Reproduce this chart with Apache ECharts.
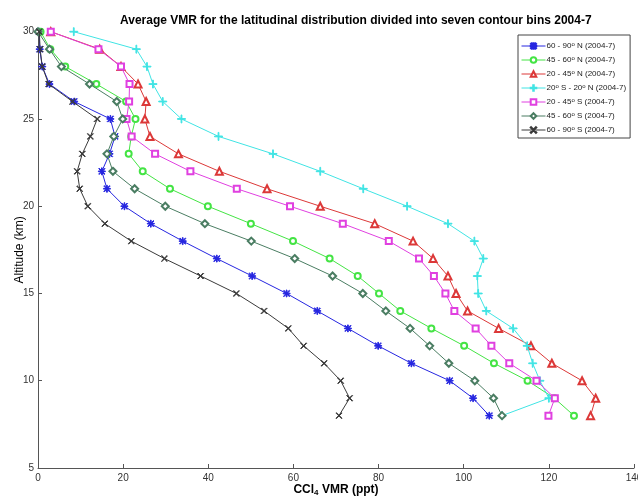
<!DOCTYPE html>
<html>
<head>
<meta charset="utf-8">
<script src="https://cdn.jsdelivr.net/npm/echarts@6/dist/echarts.min.js"></script>
<style>
  html, body { margin: 0; padding: 0; background: #fff; }
  #chart { width: 638px; height: 496px; }
</style>
</head>
<body>
<div id="chart"></div>
<script>
// Altitude levels (km), top to bottom
const altitudes = [30, 29, 28, 27, 26, 25, 24, 23, 22, 21, 20, 19, 18, 17, 16, 15, 14, 13, 12, 11, 10, 9, 8];

// CCl4 VMR (ppt) for each latitude band, one value per altitude level
const nh60to90 = [0.3, 0.4, 1.0, 2.7, 8.5, 17.0, 18.1, 16.8, 15.0, 16.2, 20.3, 26.5, 34.0, 42.0, 50.3, 58.4, 65.6, 72.8, 79.9, 87.7, 96.7, 102.2, 106.0];
const nh45to60 = [0.6, 2.9, 6.4, 13.7, 20.7, 22.9, 21.9, 21.3, 24.6, 31.0, 39.9, 50.0, 59.9, 68.5, 75.1, 80.1, 85.1, 92.4, 100.1, 107.1, 115.0, 121.3, 125.9];
const nh20to45 = [3.0, 14.5, 19.5, 23.5, 25.4, 25.1, 26.3, 33.0, 42.6, 53.8, 66.3, 79.1, 88.1, 92.8, 96.3, 98.2, 100.9, 108.2, 115.8, 120.7, 127.8, 131.0, 129.8];
const tropics = [8.4, 23.1, 25.6, 27.0, 29.3, 33.7, 42.4, 55.2, 66.3, 76.4, 86.7, 96.3, 102.5, 104.6, 103.2, 103.4, 105.3, 111.6, 114.9, 116.2, 117.9, 120.0, 109.0];
const sh20to45 = [3.0, 14.2, 19.5, 21.5, 21.4, 20.8, 22.0, 27.5, 35.8, 46.7, 59.2, 71.6, 82.4, 89.5, 93.0, 95.7, 97.8, 102.8, 106.5, 110.7, 117.1, 121.4, 119.9];
const sh45to60 = [0.0, 2.7, 5.5, 12.1, 18.5, 19.9, 17.8, 16.2, 17.6, 22.7, 29.9, 39.2, 50.1, 60.3, 69.2, 76.3, 81.7, 87.4, 92.0, 96.5, 102.6, 107.0, 109.0];
const sh60to90 = [0.3, 0.5, 1.0, 2.5, 8.1, 13.9, 12.3, 10.4, 9.2, 9.8, 11.7, 15.7, 21.9, 29.7, 38.2, 46.6, 53.1, 58.8, 62.4, 67.2, 71.1, 73.2, 70.7];

// Band names (° is shown as a raised "o")
const bandNames = [
  '60 - 90° N (2004-7)',
  '45 - 60° N (2004-7)',
  '20 - 45° N (2004-7)',
  '20° S - 20° N (2004-7)',
  '20 - 45° S (2004-7)',
  '45 - 60° S (2004-7)',
  '60 - 90° S (2004-7)'
];

// Axis ranges and tick steps
const xTicks = { min: 0, max: 140, step: 20 };
const yTicks = { min: 5, max: 30, step: 5 };

const FONT = '"Liberation Sans", Arial, Helvetica, sans-serif';

// Marker shapes drawn as thin filled outlines
const plusPath = 'path://M4.5,0h1v10h-1z M0,4.5h10v1h-10z';
const crossPath = 'path://M0.7,0L10,9.3L9.3,10L0,0.7Z M9.3,0L10,0.7L0.7,10L0,9.3Z';
const starPath = 'path://M4.5,0h1v10h-1z M0,4.5h10v1h-10z M1.2,0.5L9.5,8.8L8.8,9.5L0.5,1.2Z M8.8,0.5L9.5,1.2L1.2,9.5L0.5,8.8Z';

const styles = [
  { values: nh60to90, color: '#2626e0', symbol: starPath, size: 7 },
  { values: nh45to60, color: '#44e444', symbol: 'emptyCircle', size: 6 },
  { values: nh20to45, color: '#dc3838', symbol: 'emptyTriangle', size: 7 },
  { values: tropics,  color: '#40e4e4', symbol: plusPath, size: 8 },
  { values: sh20to45, color: '#e040e0', symbol: 'emptyRect', size: 6 },
  { values: sh45to60, color: '#4a7d62', symbol: 'emptyDiamond', size: 7 },
  { values: sh60to90, color: '#3a3a3a', symbol: crossPath, size: 6 }
];

const series = styles.map((s, i) => ({
  name: bandNames[i],
  type: 'line',
  data: s.values.map((v, k) => [v, altitudes[k]]),
  symbol: s.symbol,
  symbolSize: s.size,
  showAllSymbol: true,
  color: s.color,
  itemStyle: { color: s.color, borderColor: s.color, borderWidth: 1 },
  lineStyle: { color: s.color, width: 1 },
  z: 2 + i,
  animation: false
}));

const chart = echarts.init(document.getElementById('chart'), null, { renderer: 'canvas' });

chart.setOption({
  backgroundColor: '#fff',
  animation: false,
  title: {
    text: 'Average VMR for the latitudinal distribution divided into seven contour bins 2004-7',
    left: 115,
    top: 10,
    textStyle: { fontFamily: FONT, fontSize: 12, fontWeight: 'bold', color: '#000' }
  },
  legend: {
    orient: 'vertical',
    left: 518,
    top: 35,
    padding: [6, 4, 4, 3],
    itemGap: 5,
    itemWidth: 24,
    itemHeight: 7,
    backgroundColor: '#fff',
    borderColor: '#444',
    borderWidth: 1,
    borderRadius: 0,
    lineStyle: { width: 1 },
    data: bandNames,
    formatter: name => name.replace(/°/g, '{sup|o}'),
    textStyle: {
      fontFamily: FONT,
      fontSize: 8,
      color: '#222',
      padding: [0, 0, 0, -4],
      rich: {
        sup: { fontFamily: FONT, fontSize: 6, color: '#222', padding: [0, 0, 4, 0] }
      }
    }
  },
  grid: { left: 38, right: 4, top: 31.7, bottom: 28, containLabel: false, outerBoundsMode: 'none' },
  xAxis: {
    type: 'value',
    min: xTicks.min,
    max: xTicks.max,
    interval: xTicks.step,
    name: '{b|CCl}{sub|4}{b| VMR (ppt)}',
    nameLocation: 'middle',
    nameGap: 15,
    nameMoveOverlap: false,
    nameTextStyle: {
      rich: {
        b: { fontFamily: FONT, fontSize: 12, fontWeight: 'bold', color: '#000' },
        sub: { fontFamily: FONT, fontSize: 8, fontWeight: 'bold', color: '#000', padding: [6, 0, 0, 0] }
      }
    },
    axisLine: { show: true, lineStyle: { color: '#555', width: 1 } },
    axisTick: { show: true, inside: true, length: 4, lineStyle: { color: '#555' } },
    axisLabel: { fontFamily: FONT, fontSize: 10, color: '#333', margin: 5 },
    splitLine: { show: false }
  },
  yAxis: {
    type: 'value',
    min: yTicks.min,
    max: yTicks.max,
    interval: yTicks.step,
    name: 'Altitude (km)',
    nameLocation: 'middle',
    nameGap: 12,
    nameRotate: 90,
    nameMoveOverlap: false,
    nameTextStyle: { fontFamily: FONT, fontSize: 12, color: '#000' },
    axisLine: { show: true, lineStyle: { color: '#555', width: 1 } },
    axisTick: { show: true, inside: true, length: 4, lineStyle: { color: '#555' } },
    axisLabel: { fontFamily: FONT, fontSize: 10, color: '#333', margin: 4 },
    splitLine: { show: false }
  },
  series: series
});
</script>
</body>
</html>
